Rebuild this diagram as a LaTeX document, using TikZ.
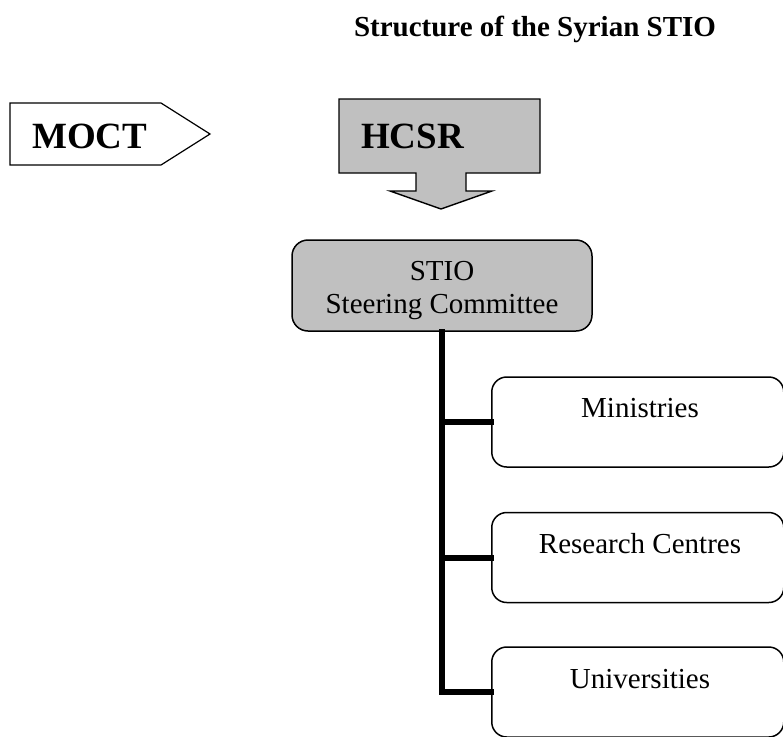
\documentclass[tikz,border=0pt]{standalone}
\usepackage{fontspec}
\setmainfont{Liberation Serif}
\definecolor{boxgray}{HTML}{C0C0C0}
\begin{document}
\begin{tikzpicture}[x=1pt,y=-1pt,
  outline/.style={draw=black,line width=1.4pt,line join=miter},
  unitbox/.style={draw=black,line width=1.5pt,rounded corners=15pt,minimum width=292pt,minimum height=90pt,inner sep=0pt,anchor=west},
  lbl/.style={font=\fontsize{29}{33}\selectfont,inner sep=0pt,anchor=base},
  big/.style={font=\fontsize{37}{40}\bfseries\selectfont,inner sep=0pt,anchor=west},
  trunk/.style={line width=6pt,line cap=rect,line join=miter}]
\useasboundingbox (0,0) rectangle (783,736);
\clip (0,0) rectangle (783,736);
% title
\node[font=\fontsize{29}{33}\bfseries\selectfont,inner sep=0pt,anchor=base] (title) at (535,36) {Structure of the Syrian STIO};
% MOCT pointer
\draw[outline,line width=1.2pt,fill=white] (10,103) -- (161,103) -- (210,134) -- (161,165) -- (10,165) -- cycle;
\node[big] (moct) at (32,136) {MOCT};
% HCSR block arrow
\draw[outline,fill=boxgray] (339,99) -- (540,99) -- (540,173) -- (466,173) -- (466,191) -- (492,191) -- (441,209) -- (390,191) -- (416,191) -- (416,173) -- (339,173) -- cycle;
\node[big] (hcsr) at (361,136) {HCSR};
% STIO steering committee
\node[draw=black,line width=1.5pt,rounded corners=16pt,fill=boxgray,minimum width=300pt,minimum height=91pt,inner sep=0pt] (stio) at (442,285.5) {};
\node[lbl] (stiotxt) at (442,280) {STIO};
\node[lbl] (sctxt) at (442,313) {Steering Committee};
% units
\node[unitbox] (min) at (491,422) {};
\node[unitbox] (res) at (491,557.5) {};
\node[unitbox] (uni) at (491,692) {};
\node[lbl] (mintxt) at (640,417) {Ministries};
\node[lbl] (restxt) at (640,553) {Research Centres};
\node[lbl] (unitxt) at (640,688) {Universities};
% connectors
\draw[trunk] (stio.south) |- (uni.west);
\draw[trunk] (stio.south |- min.west) -- (min.west);
\draw[trunk] (stio.south |- res.west) -- (res.west);
\end{tikzpicture}
\end{document}
